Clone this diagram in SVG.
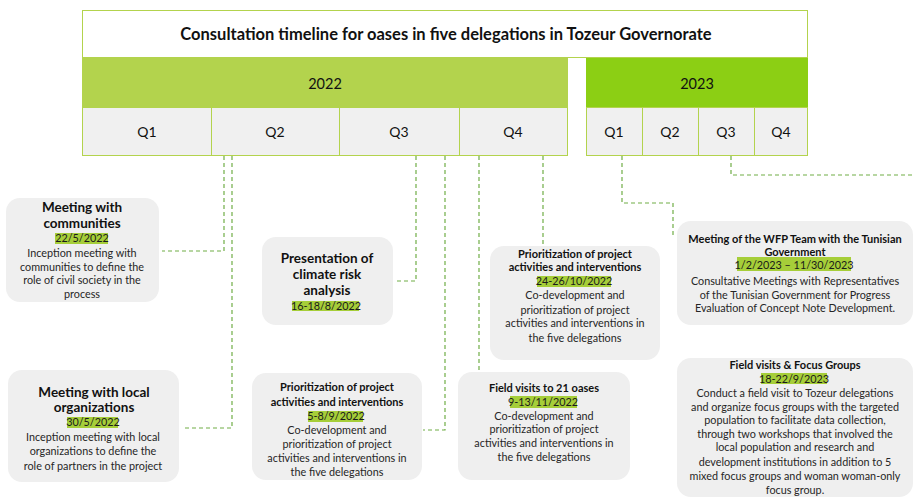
<svg xmlns="http://www.w3.org/2000/svg" width="915" height="502" viewBox="0 0 915 502">
  <style>
    .hdr { font-family: Lato, "Liberation Sans", sans-serif; fill: #111; text-anchor: middle; }
    .ttl { font-family: Lato, "Liberation Sans", sans-serif; font-weight: bold; fill: #111; text-anchor: middle; }
    .txt { font-family: Lato, "Liberation Sans", sans-serif; font-size: 10.8px; fill: #262626; text-anchor: middle; }
    .date { font-family: Lato, "Liberation Sans", sans-serif; font-size: 10.8px; fill: #1a1a1a; text-anchor: middle; }
    .card { fill: #efefef; }
    .hl { fill: #a6ce39; }
    .qcell { fill: #f0f0f0; stroke: #b3d34d; stroke-width: 1; }
    .conn { fill: none; stroke: #70ad47; stroke-width: 1.2; stroke-dasharray: 4 3; }
  </style>

  <!-- header: title, years, quarters -->
  <g id="header">
    <rect x="82.5" y="10.5" width="725" height="47" fill="#fff" stroke="#b3d34d"/>
    <text class="ttl" x="446" y="40" font-size="16.5">Consultation timeline for oases in five delegations in Tozeur Governorate</text>
    <rect x="82" y="58" width="486" height="49" fill="#b3d34d"/>
    <text class="hdr" x="325" y="89" font-size="14.5">2022</text>
    <rect x="586" y="58" width="222" height="49" fill="#8ccf14"/>
    <text class="hdr" x="697" y="89" font-size="14.5">2023</text>
    <rect class="qcell" x="82.5" y="107.5" width="129" height="48"/>
    <rect class="qcell" x="211.5" y="107.5" width="128" height="48"/>
    <rect class="qcell" x="339.5" y="107.5" width="120" height="48"/>
    <rect class="qcell" x="459.5" y="107.5" width="108" height="48"/>
    <rect class="qcell" x="586.5" y="107.5" width="56" height="48"/>
    <rect class="qcell" x="642.5" y="107.5" width="56" height="48"/>
    <rect class="qcell" x="698.5" y="107.5" width="56" height="48"/>
    <rect class="qcell" x="754.5" y="107.5" width="53" height="48"/>
    <text class="hdr" x="147" y="137" font-size="14">Q1</text>
    <text class="hdr" x="275" y="137" font-size="14">Q2</text>
    <text class="hdr" x="399" y="137" font-size="14">Q3</text>
    <text class="hdr" x="513" y="137" font-size="14">Q4</text>
    <text class="hdr" x="614" y="137" font-size="14">Q1</text>
    <text class="hdr" x="670" y="137" font-size="14">Q2</text>
    <text class="hdr" x="726" y="137" font-size="14">Q3</text>
    <text class="hdr" x="781" y="137" font-size="14">Q4</text>
  </g>

  <!-- dashed leader lines from the quarter row to the event cards -->
  <g id="connectors">
    <polyline class="conn" points="224,156 224,251 162,251"/>
    <polyline class="conn" points="232,156 232,428 183,428"/>
    <polyline class="conn" points="416,156 416,281 394,281"/>
    <polyline class="conn" points="445,156 445,430 423,430"/>
    <polyline class="conn" points="479,156 479,370"/>
    <polyline class="conn" points="543,156 543,245"/>
    <polyline class="conn" points="622,156 622,203 673,203 673,238"/>
    <polyline class="conn" points="731,156 731,175 915,175"/>
  </g>

  <g id="communities">
    <rect class="card" x="6" y="198" width="153" height="104" rx="14"/>
    <text class="ttl" x="82" y="212" font-size="13.5">Meeting with</text>
    <text class="ttl" x="82" y="228" font-size="13.5">communities</text>
    <rect class="hl" x="55" y="233" width="53" height="11"/>
    <text class="date" x="82" y="242">22/5/2022</text>
    <text class="txt" x="82" y="257">Inception meeting with</text>
    <text class="txt" x="82" y="271">communities to define the</text>
    <text class="txt" x="82" y="284">role of civil society in the</text>
    <text class="txt" x="82" y="298">process</text>
  </g>

  <g id="local-organizations">
    <rect class="card" x="8" y="370" width="171" height="112" rx="14"/>
    <text class="ttl" x="94" y="397" font-size="13.5">Meeting with local</text>
    <text class="ttl" x="94" y="412" font-size="13.5">organizations</text>
    <rect class="hl" x="67" y="417" width="51" height="11"/>
    <text class="date" x="93" y="426">30/5/2022</text>
    <text class="txt" x="93" y="441">Inception meeting with local</text>
    <text class="txt" x="93" y="455">organizations to define the</text>
    <text class="txt" x="93" y="470">role of partners in the project</text>
  </g>

  <g id="climate-risk">
    <rect class="card" x="262" y="237" width="131" height="88" rx="14"/>
    <text class="ttl" x="327" y="263" font-size="13.5">Presentation of</text>
    <text class="ttl" x="327" y="279" font-size="13.5">climate risk</text>
    <text class="ttl" x="327" y="295" font-size="13.5">analysis</text>
    <rect class="hl" x="292" y="301" width="67" height="10"/>
    <text class="date" x="326" y="310">16-18/8/2022</text>
  </g>

  <g id="prioritization-sep">
    <rect class="card" x="252" y="373" width="170" height="107" rx="14"/>
    <text class="ttl" x="337" y="391" font-size="11">Prioritization of project</text>
    <text class="ttl" x="337" y="406" font-size="11">activities and interventions</text>
    <rect class="hl" x="308" y="411" width="55" height="11"/>
    <text class="date" x="336" y="420">5-8/9/2022</text>
    <text class="txt" x="337" y="434">Co-development and</text>
    <text class="txt" x="337" y="448">prioritization of project</text>
    <text class="txt" x="337" y="462">activities and interventions in</text>
    <text class="txt" x="337" y="476">the five delegations</text>
  </g>

  <g id="prioritization-oct">
    <rect class="card" x="490" y="246" width="170" height="114" rx="14"/>
    <text class="ttl" x="575" y="258" font-size="11">Prioritization of project</text>
    <text class="ttl" x="575" y="271" font-size="11">activities and interventions</text>
    <rect class="hl" x="537" y="276" width="74" height="11"/>
    <text class="date" x="574" y="285">24-26/10/2022</text>
    <text class="txt" x="575" y="299">Co-development and</text>
    <text class="txt" x="575" y="314">prioritization of project</text>
    <text class="txt" x="575" y="327">activities and interventions in</text>
    <text class="txt" x="575" y="342">the five delegations</text>
  </g>

  <g id="field-visits-oases">
    <rect class="card" x="458" y="372" width="172" height="108" rx="14"/>
    <text class="ttl" x="544" y="392" font-size="11">Field visits to 21 oases</text>
    <rect class="hl" x="510" y="396" width="67" height="12"/>
    <text class="date" x="543" y="406">9-13/11/2022</text>
    <text class="txt" x="544" y="420">Co-development and</text>
    <text class="txt" x="544" y="433">prioritization of project</text>
    <text class="txt" x="544" y="447">activities and interventions in</text>
    <text class="txt" x="544" y="461">the five delegations</text>
  </g>

  <g id="wfp-government">
    <rect class="card" x="677" y="221" width="236" height="104" rx="14"/>
    <text class="ttl" x="795" y="243" font-size="11">Meeting of the WFP Team with the Tunisian</text>
    <text class="ttl" x="795" y="256" font-size="11">Government</text>
    <rect class="hl" x="737" y="257" width="114" height="14"/>
    <text class="date" x="794" y="269">1/2/2023 – 11/30/2023</text>
    <text class="txt" x="795" y="285">Consultative Meetings with Representatives</text>
    <text class="txt" x="795" y="299">of the Tunisian Government for Progress</text>
    <text class="txt" x="795" y="312">Evaluation of Concept Note Development.</text>
  </g>

  <g id="focus-groups">
    <rect class="card" x="677" y="358" width="236" height="139" rx="14"/>
    <text class="ttl" x="795" y="369" font-size="11">Field visits &amp; Focus Groups</text>
    <rect class="hl" x="761" y="373" width="66" height="11"/>
    <text class="date" x="794" y="383">18-22/9/2023</text>
    <text class="txt" x="795" y="397">Conduct a field visit to Tozeur delegations</text>
    <text class="txt" x="795" y="411">and organize focus groups with the targeted</text>
    <text class="txt" x="795" y="424">population to facilitate data collection,</text>
    <text class="txt" x="795" y="438">through two workshops that involved the</text>
    <text class="txt" x="795" y="451">local population and research and</text>
    <text class="txt" x="795" y="466">development institutions in addition to 5</text>
    <text class="txt" x="795" y="480">mixed focus groups and woman woman-only</text>
    <text class="txt" x="795" y="494">focus group.</text>
  </g>
</svg>
